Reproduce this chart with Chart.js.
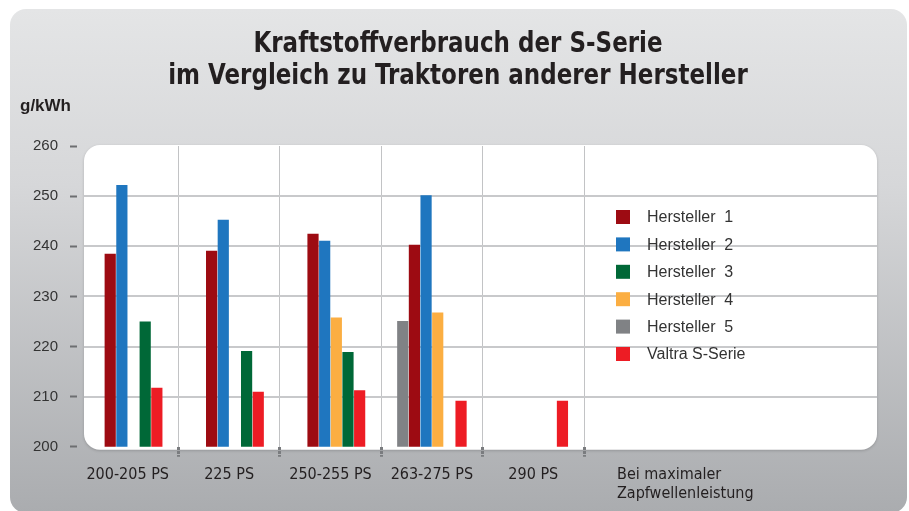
<!DOCTYPE html>
<html lang="de">
<head>
    <meta charset="UTF-8">
    <title>Kraftstoffverbrauch der S-Serie</title>
    <script src="https://cdn.jsdelivr.net/npm/chart.js"></script>
    <style>
        html, body { margin: 0; padding: 0; background: #ffffff; }
        .wrap { position: relative; width: 909px; height: 511px; overflow: hidden; }
        .panel {
            position: absolute; left: 10px; top: 9px; width: 897px; height: 504px;
            border-radius: 16px;
            background: linear-gradient(#e4e5e6 0%, #d6d7d9 35%, #aaacaf 100%);
        }
        canvas { position: absolute; left: 0; top: 0; }
    </style>
</head>
<body>
    <div class="wrap">
        <div class="panel"></div>
        <canvas id="fuelChart" width="909" height="511"></canvas>
    </div>

    <script>
        // data (g/kWh)
        const categories = ['200-205 PS', '225 PS', '250-255 PS', '263-275 PS', '290 PS'];
        const hersteller1 = [238.5, 239.1, 242.5, 240.3, null];
        const hersteller2 = [252.2, 245.3, 241.1, 250.2, null];
        const hersteller3 = [225.0, 219.1, 218.9, null, null];
        const hersteller4 = [null, null, 225.8, 226.8, null];
        const hersteller5 = [null, null, null, 225.1, null];
        const valtraS = [211.8, 211.0, 211.3, 209.2, 209.2];
        const yTicks = [200, 210, 220, 230, 240, 250, 260];
        const titleLines = ['Kraftstoffverbrauch der S-Serie', 'im Vergleich zu Traktoren anderer Hersteller'];
        const xNote = ['Bei maximaler', 'Zapfwellenleistung'];

        const narrow = "'Liberation Sans Narrow', 'DejaVu Sans Condensed', sans-serif";
        const sans = "'Liberation Sans', Arial, sans-serif";
        const ink = '#231f20';

        // white rounded plot box, horizontal lines, title, legend and extra labels
        const decor = {
            id: 'decor',
            beforeDraw(chart) {
                const { ctx, chartArea: a } = chart;
                const l = a.left + 7, t = a.top - 1, r = a.right + 293, b = a.bottom + 3, rad = 16;
                ctx.save();
                ctx.shadowColor = 'rgba(0,0,0,0.18)';
                ctx.shadowBlur = 3;
                ctx.shadowOffsetY = 1;
                ctx.fillStyle = '#ffffff';
                ctx.beginPath();
                ctx.roundRect(l, t, r - l, b - t, rad);
                ctx.fill();
                ctx.restore();
            },
            beforeDatasetsDraw(chart) {
                const { ctx, chartArea: a, scales } = chart;
                ctx.save();
                ctx.strokeStyle = '#c8c9cb';
                ctx.lineWidth = 2;
                yTicks.slice(1, -1).forEach(v => {
                    const y = Math.round(scales.y.getPixelForValue(v));
                    ctx.beginPath();
                    ctx.moveTo(a.left + 7, y);
                    ctx.lineTo(a.right + 293, y);
                    ctx.stroke();
                });
                ctx.restore();
            },
            afterDraw(chart) {
                const { ctx, chartArea: a } = chart;
                ctx.save();
                ctx.fillStyle = ink;
                ctx.textBaseline = 'middle';

                // title, condensed a little to match the narrow face of the original
                ctx.font = 'bold 27.5px ' + narrow;
                ctx.textAlign = 'center';
                titleLines.forEach((s, i) => {
                    ctx.save();
                    ctx.translate(458, a.top - 101 + i * 32);
                    ctx.scale(0.93, 1);
                    ctx.fillText(s, 0, 0);
                    ctx.restore();
                });

                // unit label
                ctx.textAlign = 'left';
                ctx.font = 'bold 17px ' + sans;
                ctx.fillText('g/kWh', a.left - 57, a.top - 40);

                // note under the legend column
                ctx.font = '16px ' + narrow;
                xNote.forEach((s, i) => ctx.fillText(s, a.right + 33, a.bottom + 28 + i * 19));

                // legend in dataset order
                ctx.font = '16px ' + sans;
                chart.data.datasets.forEach((ds, i) => {
                    const y = a.top + 71 + i * 27.4;
                    ctx.fillStyle = ds.backgroundColor;
                    ctx.fillRect(a.right + 32, y - 7, 14, 14);
                    ctx.fillStyle = '#333333';
                    ctx.fillText(ds.label, a.right + 63, y + 1);
                });
                ctx.restore();
            }
        };

        const ctx = document.getElementById('fuelChart').getContext('2d');
        new Chart(ctx, {
            type: 'bar',
            data: {
                labels: categories,
                datasets: [
                    // "order" sets the slot inside each group: H5, H1, H2, H4, H3, Valtra
                    { label: 'Hersteller  1', data: hersteller1, backgroundColor: '#9d0b12', order: 1 },
                    { label: 'Hersteller  2', data: hersteller2, backgroundColor: '#1f76bf', order: 2 },
                    { label: 'Hersteller  3', data: hersteller3, backgroundColor: '#006837', order: 4 },
                    { label: 'Hersteller  4', data: hersteller4, backgroundColor: '#fbae42', order: 3 },
                    { label: 'Hersteller  5', data: hersteller5, backgroundColor: '#808285', order: 0 },
                    { label: 'Valtra S-Serie', data: valtraS, backgroundColor: '#ed1c24', order: 5 }
                ]
            },
            options: {
                responsive: false,
                animation: false,
                layout: { padding: { top: 146, left: 9, right: 0, bottom: 19 } },
                datasets: {
                    bar: { categoryPercentage: 0.69, barPercentage: 0.96 }
                },
                plugins: {
                    legend: { display: false },
                    tooltip: { enabled: false },
                    title: { display: false }
                },
                scales: {
                    x: {
                        border: { display: false },
                        grid: {
                            offset: true,
                            color: c => c.index === 0 ? 'rgba(0,0,0,0)' : '#c2c3c5',
                            lineWidth: 1,
                            borderDash: [1, 2],
                            tickLength: 10,
                            tickColor: c => c.index === 0 ? 'rgba(0,0,0,0)' : '#7a7c7f',
                            tickWidth: 3,
                            tickBorderDash: [3, 1]
                        },
                        ticks: {
                            color: ink,
                            font: { family: narrow, size: 16 },
                            padding: 8,
                            maxRotation: 0
                        }
                    },
                    y: {
                        min: 200,
                        max: 260,
                        border: { display: false },
                        afterFit: s => { s.width = 68; },
                        afterBuildTicks: s => { s.ticks = yTicks.map(v => ({ value: v })); },
                        grid: {
                            drawOnChartArea: false,
                            tickLength: 7,
                            tickColor: '#6d6e71',
                            tickWidth: 2
                        },
                        ticks: {
                            color: '#333333',
                            font: { family: sans, size: 15 },
                            padding: 12
                        }
                    },
                    side: {
                        type: 'linear',
                        position: 'right',
                        display: true,
                        border: { display: false },
                        grid: { display: false },
                        ticks: { display: false },
                        afterFit: s => { s.width = 325; }
                    }
                }
            },
            plugins: [decor]
        });
    </script>
</body>
</html>
